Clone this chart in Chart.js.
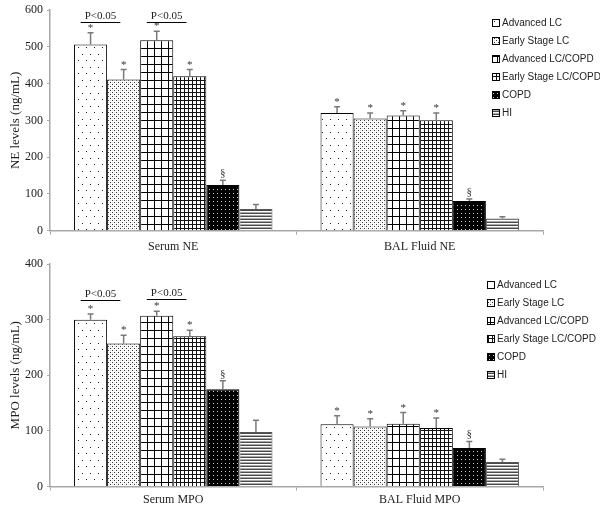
<!DOCTYPE html>
<html>
<head>
<meta charset="utf-8">
<script src="https://cdn.jsdelivr.net/npm/chart.js@4.4.0/dist/chart.umd.min.js"></script>
<style>
  html, body { margin: 0; padding: 0; background: #fff; }
  #wrap { position: relative; width: 600px; height: 507px; }
  .panel { position: absolute; left: 0; width: 600px; }
</style>
</head>
<body>
<div id="wrap">
  <div class="panel" style="top:0;height:250px"><canvas id="neChart" width="600" height="250"></canvas></div>
  <div class="panel" style="top:250px;height:257px"><canvas id="mpoChart" width="600" height="257"></canvas></div>
</div>
<script>
const groups = ['Advanced LC', 'Early Stage LC', 'Advanced LC/COPD', 'Early Stage LC/COPD', 'COPD', 'HI'];
const neCategories = ['Serum NE', 'BAL Fluid NE'];
const mpoCategories = ['Serum MPO', 'BAL Fluid MPO'];

// means and error bars per group (ng/mL)
const neSerum = [506, 411, 518, 420, 124, 59];
const neSerumErr = [32, 27, 24, 18, 13, 12];
const neBal = [320, 305, 313, 300, 81, 33];
const neBalErr = [17, 15, 13, 20, 5, 5];

const mpoSerum = [300, 257, 307, 270, 175, 98];
const mpoSerumErr = [10, 15, 8, 11, 15, 21];
const mpoBal = [112, 108, 113, 105, 69, 44];
const mpoBalErr = [15, 14, 20, 18, 12, 5];

const marks = ['*', '*', '*', '*', '§', ''];
const neTicks = [0, 100, 200, 300, 400, 500, 600];
const mpoTicks = [0, 100, 200, 300, 400];

// [group a, group b, level] for the P<0.05 brackets over the serum bars
const neBrackets = [[0, 1, 568], [2, 3, 568]];
const mpoBrackets = [[0, 1, 335], [2, 3, 337]];

const serif = '"Liberation Serif", "Times New Roman", serif';
const sans = '"Liberation Sans", Arial, sans-serif';

function tile(w, h, draw) {
    const c = document.createElement('canvas');
    c.width = w; c.height = h;
    const g = c.getContext('2d');
    draw(g);
    return document.createElement('canvas').getContext('2d').createPattern(c, 'repeat');
}

function makePatterns() {
    return [
        // sparse dots
        tile(8, 13, g => {
            g.fillStyle = '#fff'; g.fillRect(0, 0, 8, 13);
            g.fillStyle = '#222'; g.fillRect(2, 2, 1, 1); g.fillRect(6, 8, 1, 1);
        }),
        // dense stipple
        tile(4, 4, g => {
            g.fillStyle = '#fff'; g.fillRect(0, 0, 4, 4);
            g.fillStyle = '#333'; g.fillRect(0, 0, 1, 1); g.fillRect(2, 2, 1, 1);
            g.fillStyle = '#ddd'; g.fillRect(2, 0, 1, 1); g.fillRect(0, 2, 1, 1);
        }),
        // big grid
        tile(7, 8, g => {
            g.fillStyle = '#fff'; g.fillRect(0, 0, 7, 8);
            g.fillStyle = '#000'; g.fillRect(0, 0, 1, 8); g.fillRect(0, 0, 7, 1);
        }),
        // fine grid
        tile(4, 4, g => {
            g.fillStyle = '#fff'; g.fillRect(0, 0, 4, 4);
            g.fillStyle = '#111'; g.fillRect(0, 0, 1, 4); g.fillRect(0, 0, 4, 1);
        }),
        // black with white dots
        tile(4, 4, g => {
            g.fillStyle = '#000'; g.fillRect(0, 0, 4, 4);
            g.fillStyle = '#ccc'; g.fillRect(1, 1, 1, 1);
        }),
        // horizontal lines
        tile(1, 3, g => {
            g.fillStyle = '#fff'; g.fillRect(0, 0, 1, 3);
            g.fillStyle = '#4a4a4a'; g.fillRect(0, 0, 1, 1);
            g.fillStyle = '#aaa'; g.fillRect(0, 2, 1, 1);
        })
    ];
}

const extras = {
    id: 'extras',
    afterDatasetsDraw(chart, args, opts) {
        const ctx = chart.ctx;
        const y = chart.scales.y;
        ctx.save();
        chart.data.datasets.forEach((ds, di) => {
            chart.getDatasetMeta(di).data.forEach((bar, i) => {
                const top = y.getPixelForValue(ds.data[i] + ds.errors[i]);
                ctx.strokeStyle = '#7a7a7a';
                ctx.lineWidth = 1.5;
                ctx.beginPath();
                ctx.moveTo(bar.x, bar.y);
                ctx.lineTo(bar.x, top);
                ctx.moveTo(bar.x - 3, top);
                ctx.lineTo(bar.x + 3, top);
                ctx.stroke();
                const m = ds.marks[i];
                if (m) {
                    ctx.fillStyle = '#333';
                    ctx.font = '11px ' + serif;
                    ctx.textAlign = 'center';
                    ctx.textBaseline = 'alphabetic';
                    ctx.fillText(m, bar.x, m === '*' ? top - 2 : top - 4);
                }
            });
        });
        opts.brackets.forEach(([a, b, v]) => {
            const A = chart.getDatasetMeta(a).data[0];
            const B = chart.getDatasetMeta(b).data[0];
            const x0 = A.x - 0.3 * A.width, x1 = B.x - 0.1 * B.width;
            const yy = Math.round(y.getPixelForValue(v)) + 0.5;
            ctx.strokeStyle = '#000';
            ctx.lineWidth = 1;
            ctx.beginPath();
            ctx.moveTo(x0, yy);
            ctx.lineTo(x1, yy);
            ctx.stroke();
            ctx.fillStyle = '#222';
            ctx.font = '11px ' + serif;
            ctx.textAlign = 'center';
            ctx.textBaseline = 'bottom';
            ctx.fillText('P<0.05', (x0 + x1) / 2, yy - 1);
        });
        ctx.restore();
    },
    afterDraw(chart, args, opts) {
        const ctx = chart.ctx;
        ctx.save();
        ctx.font = '10px ' + sans;
        chart.data.datasets.forEach((ds, i) => {
            const cy = opts.legendY + i * 18;
            ctx.fillStyle = ds.backgroundColor;
            ctx.fillRect(opts.legendX, cy - 4, 8, 8);
            ctx.strokeStyle = '#000';
            ctx.lineWidth = 1;
            ctx.strokeRect(opts.legendX + 0.5, cy - 3.5, 7, 7);
            ctx.fillStyle = '#222';
            ctx.textAlign = 'left';
            ctx.textBaseline = 'middle';
            ctx.fillText(ds.label, opts.legendX + 10, cy);
        });
        ctx.restore();
    }
};

function buildChart(id, categories, serum, serumErr, bal, balErr, ticks, yTitle, brackets, lay) {
    const patterns = makePatterns();
    const datasets = groups.map((g, gi) => ({
        label: g,
        data: [serum[gi], bal[gi]],
        errors: [serumErr[gi], balErr[gi]],
        marks: [marks[gi], marks[gi]],
        backgroundColor: patterns[gi],
        borderColor: gi === 5 ? '#555' : '#000',
        borderWidth: 1,
        categoryPercentage: 0.805,
        barPercentage: 1
    }));
    return new Chart(document.getElementById(id), {
        type: 'bar',
        data: { labels: categories, datasets },
        options: {
            responsive: false,
            animation: false,
            layout: { padding: { top: lay.top, right: 57, left: 0, bottom: 0 } },
            plugins: {
                legend: { display: false },
                tooltip: { enabled: false },
                extras: { brackets, legendX: lay.legendX, legendY: lay.legendY }
            },
            scales: {
                x: {
                    afterFit: s => { s.height = lay.xHeight; },
                    grid: { drawOnChartArea: false, tickLength: 4, color: '#a8a8a8', offset: true },
                    border: { color: '#a8a8a8', width: 1.5 },
                    ticks: { padding: lay.xPad, color: '#222', font: { family: serif, size: 12 } }
                },
                y: {
                    min: 0,
                    max: ticks[ticks.length - 1],
                    afterFit: s => { s.width = 50; },
                    afterBuildTicks: s => { s.ticks = ticks.map(v => ({ value: v })); },
                    grid: { drawOnChartArea: false, tickLength: 3, color: '#a8a8a8' },
                    border: { color: '#a8a8a8', width: 1.5 },
                    ticks: { padding: 4, color: '#222', font: { family: serif, size: 12, lineHeight: 1 } },
                    title: { display: true, text: yTitle, color: '#222', padding: { top: 8, bottom: 0 }, font: { family: serif, size: 13 } }
                }
            }
        },
        plugins: [extras]
    });
}

buildChart('neChart', neCategories, neSerum, neSerumErr, neBal, neBalErr, neTicks,
    'NE levels (ng/mL)', neBrackets,
    { top: 6, xHeight: 19.3, xPad: 5, legendX: 492, legendY: 23 });

buildChart('mpoChart', mpoCategories, mpoSerum, mpoSerumErr, mpoBal, mpoBalErr, mpoTicks,
    'MPO levels (ng/mL)', mpoBrackets,
    { top: 14, xHeight: 20.5, xPad: 2, legendX: 487, legendY: 35 });
</script>
</body>
</html>
